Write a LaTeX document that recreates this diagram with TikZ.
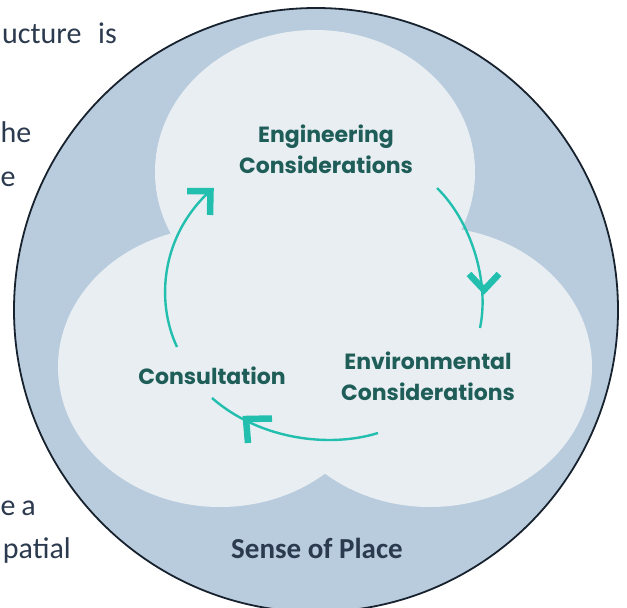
\documentclass[tikz,border=0pt]{standalone}
\usepackage{fontspec}
\setmainfont{Carlito}
\newfontfamily\stagefont{Poppins}
\definecolor{ringfill}{HTML}{B8CCDD}
\definecolor{lobefill}{HTML}{E9EEF3}
\definecolor{rimline}{HTML}{17222E}
\definecolor{cycleteal}{HTML}{22BFAE}
\definecolor{stagetext}{HTML}{1F5E58}
\definecolor{inktext}{HTML}{2B3A4E}
\tikzset{
  lobe/.style={fill=lobefill, draw=none},
  cyclearc/.style={draw=cycleteal, line width=2.4pt},
  chevron/.style={draw=cycleteal, line width=6.5pt, line join=miter},
  stage/.style={font=\stagefont\bfseries\fontsize{22}{31}\selectfont, text=stagetext, align=center, inner sep=0pt},
  bodyline/.style={font=\fontsize{30}{44}\selectfont, text=inktext, inner sep=0pt},
  placelabel/.style={font=\bfseries\fontsize{29}{34}\selectfont, text=inktext, inner sep=0pt}
}
\begin{document}
\begin{tikzpicture}[x=1pt,y=-1pt]
  \clip (0,0) rectangle (627,608);
  \fill[white] (0,0) rectangle (627,608);

  % running text of the page, partly covered by the figure
  \node[bodyline, anchor=base west] (t1a) at (2,43) {ucture};
  \node[bodyline, anchor=base east] (t1b) at (117,43) {is};
  \node[bodyline, anchor=base west] (t2) at (0.5,142) {he};
  \node[bodyline, anchor=base west] (t3) at (0.5,186) {e};
  \node[bodyline, anchor=base west] (t4a) at (0.5,515) {e};
  \node[bodyline, anchor=base east] (t4b) at (36,515) {a};
  \node[bodyline, anchor=base east] (t5) at (71,558) {patial};

  % outer disc: sense of place
  \fill[ringfill] (316,310) circle[radius=302];

  % three overlapping lobes
  \fill[lobe] (315,172) ellipse[x radius=160, y radius=142];
  \fill[lobe] (220,367) ellipse[x radius=162, y radius=140];
  \fill[lobe] (430,367) ellipse[x radius=162, y radius=140];

  \draw[rimline, line width=1.8pt] (316,310) circle[radius=302];

  % stage labels (base anchor sits on the last line)
  \node[stage, anchor=base] (eng) at (326,173) {Engineering\\Considerations};
  \node[stage, anchor=base] (env) at (428,400) {Environmental\\Considerations};
  \node[stage, anchor=base] (con) at (212,384) {Consultation};
  \node[placelabel, anchor=base] (place) at (317,558) {Sense of Place};

  % cycle arcs
  \coordinate (a1s) at (177,347);
  \coordinate (a1e) at (210,191);
  \coordinate (a2s) at (437,188);
  \coordinate (a2e) at (480,328);
  \coordinate (a3s) at (378,433);
  \coordinate (a3e) at (212,398);
  \draw[cyclearc] (a1s) .. controls (155,300) and (162,235) .. (a1e);
  \draw[cyclearc] (a2s) .. controls (470,220) and (490,280) .. (a2e);
  \draw[cyclearc] (a3s) .. controls (330,448) and (260,440) .. (a3e);

  % arrow heads
  \coordinate (h1) at (210.5,191);
  \coordinate (h2) at (484,290);
  \coordinate (h3) at (246,419);
  \draw[chevron] (187,191) -- (h1) -- (210,215);
  \draw[chevron] (469,274) -- (h2) -- (499,274);
  \draw[chevron] (272,418.5) -- (h3) -- (248,443);
\end{tikzpicture}
\end{document}
